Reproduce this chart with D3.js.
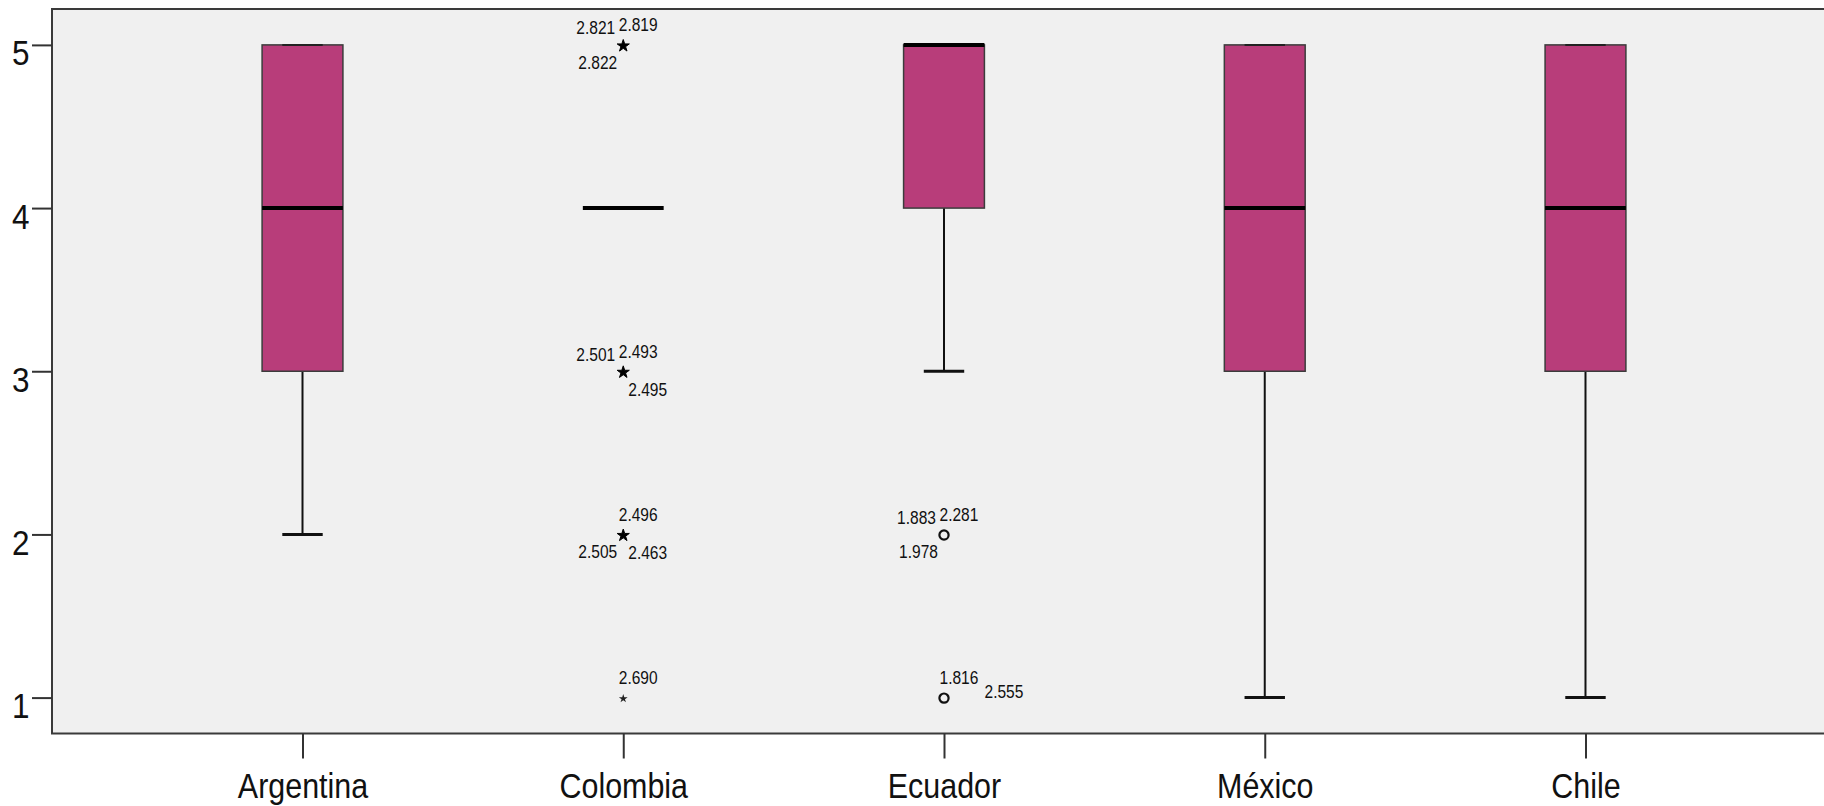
<!DOCTYPE html>
<html>
<head>
<meta charset="utf-8">
<script src="https://cdn.jsdelivr.net/npm/d3@7"></script>
<style>
  html, body { margin: 0; padding: 0; background: #ffffff; }
  svg { display: block; }
  text { font-family: "Liberation Sans", Arial, sans-serif; fill: #111; }
</style>
</head>
<body>
<svg id="chart" width="1824" height="806"></svg>
<script>
// Box-plot summaries per country
const categories  = ["Argentina", "Colombia", "Ecuador", "México", "Chile"];
const q1          = [3, 4, 4, 3, 3];
const medians     = [4, 4, 5, 4, 4];
const q3          = [5, 4, 5, 5, 5];
const whiskerLow  = [2, 4, 3, 1, 1];
const whiskerHigh = [5, 4, 5, 5, 5];
const yTicks      = [1, 2, 3, 4, 5];

// Flagged cases: "extreme" drawn as stars, "outlier" as circles
const outlierCategory = ["Colombia", "Colombia", "Colombia", "Colombia", "Ecuador", "Ecuador"];
const outlierValue    = [5, 3, 2, 1, 2, 1];
const outlierKind     = ["extreme", "extreme", "extreme", "extreme", "outlier", "outlier"];
const outlierCases    = [
  ["2.821", "2.819", "2.822"],
  ["2.501", "2.493", "2.495"],
  ["2.496", "2.505", "2.463"],
  ["2.690"],
  ["1.883", "2.281", "1.978"],
  ["1.816", "2.555"]
];

// Where each case id sits around its marker
const caseSlot = {
  "2.821": "ul", "2.819": "ur", "2.822": "ll",
  "2.501": "ul", "2.493": "ur", "2.495": "lr",
  "2.496": "ur", "2.505": "ll", "2.463": "lr",
  "2.690": "ur",
  "1.883": "ul", "2.281": "ur", "1.978": "ll",
  "1.816": "ur", "2.555": "r"
};
const slotOffset = {
  ur: { dx: -4.5, dy: -13.5, anchor: "start" },
  ul: { dx: -8,   dy: -10.5, anchor: "end" },
  ll: { dx: -6,   dy: 24,    anchor: "end" },
  lr: { dx: 5,    dy: 24.5,  anchor: "start" },
  r:  { dx: 40.5, dy: 0.5,   anchor: "start" }
};

const svg = d3.select("#chart");
const plot = { left: 52, right: 1836, top: 9, bottom: 733.5 };

const x = d3.scalePoint()
  .domain(categories)
  .range([plot.left, plot.right])
  .padding(0.781);

const y = d3.scaleLinear()
  .domain([0.78, 5.22])
  .range([plot.bottom, plot.top]);

const boxWidth = x.step() * 0.252;
const capWidth = boxWidth / 2;
const boxFill = "#B83D7A";

// Plot background and frame
svg.append("rect")
  .attr("x", plot.left).attr("y", plot.top)
  .attr("width", plot.right - plot.left)
  .attr("height", plot.bottom - plot.top)
  .attr("fill", "#F0F0F0")
  .attr("stroke", "#3a3a3a")
  .attr("stroke-width", 2);

// Y axis
const yAxis = svg.append("g")
  .attr("transform", `translate(${plot.left},0)`)
  .call(d3.axisLeft(y).tickValues(yTicks).tickFormat(d3.format("d")).tickSize(20).tickSizeOuter(0));
yAxis.select(".domain").remove();
yAxis.selectAll(".tick line").attr("stroke", "#333").attr("stroke-width", 2);
yAxis.selectAll(".tick text")
  .attr("x", 0).attr("dy", null)
  .attr("transform", "translate(-22.5,20) scale(0.9,1.02)")
  .attr("text-anchor", "end")
  .style("font-size", "35px")
  .style("font-family", "'Liberation Sans', Arial, sans-serif")
  .attr("fill", "#111");

// X axis
const xAxis = svg.append("g")
  .attr("transform", `translate(0,${plot.bottom})`)
  .call(d3.axisBottom(x).tickSize(25).tickSizeOuter(0));
xAxis.select(".domain").remove();
xAxis.selectAll(".tick line").attr("stroke", "#333").attr("stroke-width", 2);
xAxis.selectAll(".tick text")
  .attr("y", 0).attr("dy", null)
  .attr("transform", "translate(0,64.5) scale(0.87,1.02)")
  .attr("text-anchor", "middle")
  .style("font-size", "35px")
  .style("font-family", "'Liberation Sans', Arial, sans-serif")
  .attr("fill", "#111");

// Boxes
const rows = categories.map((c, i) => ({
  c, q1: q1[i], med: medians[i], q3: q3[i], lo: whiskerLow[i], hi: whiskerHigh[i]
}));

const g = svg.append("g");
const box = g.selectAll("g.box").data(rows).join("g").attr("class", "box");

// whisker stems
box.append("line")
  .attr("x1", d => x(d.c)).attr("x2", d => x(d.c))
  .attr("y1", d => y(d.lo)).attr("y2", d => y(d.q1))
  .attr("stroke", "#111").attr("stroke-width", 2);
box.append("line")
  .attr("x1", d => x(d.c)).attr("x2", d => x(d.c))
  .attr("y1", d => y(d.q3)).attr("y2", d => y(d.hi))
  .attr("stroke", "#111").attr("stroke-width", 2);

// interquartile box
box.filter(d => d.q3 > d.q1).append("rect")
  .attr("x", d => x(d.c) - boxWidth / 2)
  .attr("y", d => y(d.q3))
  .attr("width", boxWidth)
  .attr("height", d => y(d.q1) - y(d.q3))
  .attr("fill", boxFill)
  .attr("stroke", "#3c3c3c")
  .attr("stroke-width", 1.5);

// whisker caps
box.filter(d => d.lo < d.q1).append("line")
  .attr("x1", d => x(d.c) - capWidth / 2).attr("x2", d => x(d.c) + capWidth / 2)
  .attr("y1", d => y(d.lo)).attr("y2", d => y(d.lo))
  .attr("stroke", "#111").attr("stroke-width", 3);
box.filter(d => d.hi >= d.q3 && d.hi > d.q1).append("line")
  .attr("x1", d => x(d.c) - capWidth / 2).attr("x2", d => x(d.c) + capWidth / 2)
  .attr("y1", d => y(d.hi)).attr("y2", d => y(d.hi))
  .attr("stroke", "#222").attr("stroke-width", 2);

// median
box.append("line")
  .attr("x1", d => x(d.c) - boxWidth / 2).attr("x2", d => x(d.c) + boxWidth / 2)
  .attr("y1", d => y(d.med)).attr("y2", d => y(d.med))
  .attr("stroke", "#000").attr("stroke-width", 4);

// Flagged cases
const flagged = outlierCategory.map((c, i) => ({
  c, v: outlierValue[i], kind: outlierKind[i], cases: outlierCases[i]
}));

const marks = g.selectAll("g.flag").data(flagged).join("g").attr("class", "flag")
  .attr("transform", d => `translate(${x(d.c)},${y(d.v)})`);

marks.filter(d => d.kind === "extreme").append("path")
  .attr("d", d => d3.symbol(d3.symbolStar, d.cases.length > 1 ? 46 : 24)())
  .attr("transform", "translate(0,1)")
  .attr("fill", d => d.cases.length > 1 ? "#000" : "#222")
  .attr("stroke", d => d.cases.length > 1 ? "#000" : "none")
  .attr("stroke-width", 1)
  .attr("stroke-linejoin", "round");

marks.filter(d => d.kind === "outlier").append("circle")
  .attr("r", 4.6)
  .attr("cy", 0.5)
  .attr("fill", "none")
  .attr("stroke", "#111")
  .attr("stroke-width", 2.2);

marks.selectAll("text")
  .data(d => d.cases)
  .join("text")
  .attr("transform", id => {
    const o = slotOffset[caseSlot[id]];
    return `translate(${o.dx},${o.dy}) scale(0.84,1)`;
  })
  .attr("text-anchor", id => slotOffset[caseSlot[id]].anchor)
  .style("font-size", "18.5px")
  .attr("fill", "#222")
  .text(id => id);
</script>
</body>
</html>
